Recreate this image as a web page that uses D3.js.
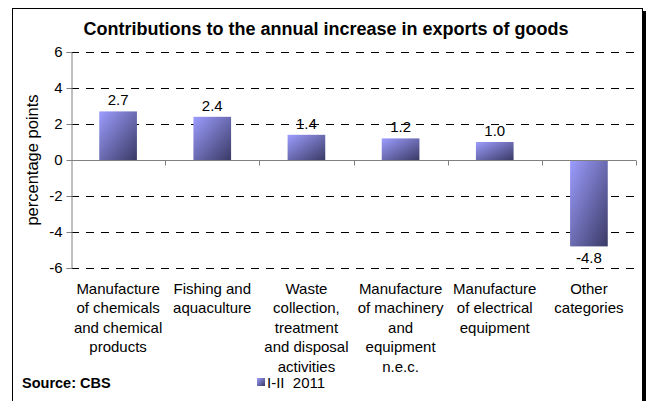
<!DOCTYPE html>
<html>
<head>
<meta charset="utf-8">
<script src="https://cdn.jsdelivr.net/npm/d3@7/dist/d3.min.js"></script>
<style>
  body { margin: 0; background: #fff; }
  svg { font-family: "Liberation Sans", Arial, sans-serif; }
</style>
</head>
<body>
<svg id="chart" width="646" height="401"></svg>
<script>
// data
const categories = [
  ["Manufacture", "of chemicals", "and chemical", "products"],
  ["Fishing and", "aquaculture"],
  ["Waste", "collection,", "treatment", "and disposal", "activities"],
  ["Manufacture", "of machinery", "and", "equipment", "n.e.c."],
  ["Manufacture", "of electrical", "equipment"],
  ["Other", "categories"]
];
const values = [2.7, 2.4, 1.4, 1.2, 1.0, -4.8];
const yTicks = [-6, -4, -2, 0, 2, 4, 6];
const seriesName = "I-II  2011";

const svg = d3.select("#chart");

// frame with shadow on the right
svg.append("rect").attr("x", 15).attr("y", 11).attr("width", 631).attr("height", 400).attr("fill", "#000");
svg.append("rect").attr("x", 12.5).attr("y", 8.5).attr("width", 630).attr("height", 400)
  .attr("fill", "#fff").attr("stroke", "#000").attr("stroke-width", 1);

const defs = svg.append("defs");
const grad = defs.append("linearGradient").attr("id", "barGrad")
  .attr("x1", 0).attr("y1", 0).attr("x2", 1).attr("y2", 1);
grad.append("stop").attr("offset", "0%").attr("stop-color", "#9d9dff");
grad.append("stop").attr("offset", "100%").attr("stop-color", "#3a3a66");

const pLeft = 71, pRight = 636, pTop = 52, pBottom = 268;

const x = d3.scaleBand().domain(d3.range(categories.length)).range([pLeft, pRight]).padding(0);
const y = d3.scaleLinear().domain([-6, 6]).range([pBottom, pTop]);

// title
svg.append("text").attr("x", 326).attr("y", 35).attr("text-anchor", "middle")
  .attr("font-size", 18).attr("font-weight", "bold").text("Contributions to the annual increase in exports of goods");

// dashed gridlines
svg.append("g").selectAll("line").data(yTicks.filter(d => d !== 0)).enter().append("line")
  .attr("x1", pLeft).attr("x2", pRight)
  .attr("y1", d => Math.round(y(d)) + 0.5).attr("y2", d => Math.round(y(d)) + 0.5)
  .attr("stroke", "#000").attr("stroke-dasharray", "8,7");

// y axis
const yAxis = svg.append("g").attr("transform", `translate(${pLeft + 0.5},0)`)
  .call(d3.axisLeft(y).tickValues(yTicks).tickSize(5).tickPadding(4).tickFormat(d3.format("d")));
yAxis.select(".domain").attr("stroke", "#808080");
yAxis.selectAll(".tick line").attr("stroke", "#808080");
yAxis.selectAll(".tick text").attr("font-size", 15).attr("fill", "#000")
  .attr("font-family", "Liberation Sans, Arial, sans-serif").text(d => d < 0 ? "-" + Math.abs(d) : d);

svg.append("text").attr("transform", "translate(38,160) rotate(-90)").attr("text-anchor", "middle")
  .attr("font-size", 16.5).text("percentage points");

// bars
const bw = x.bandwidth() * 0.4;
svg.append("g").selectAll("rect").data(values).enter().append("rect")
  .attr("x", (d, i) => x(i) + (x.bandwidth() - bw) / 2)
  .attr("width", bw)
  .attr("y", d => y(Math.max(0, d)))
  .attr("height", d => Math.abs(y(d) - y(0)))
  .attr("fill", "url(#barGrad)");

// zero axis with category ticks
const y0 = Math.round(y(0)) + 0.5;
svg.append("line").attr("x1", pLeft).attr("x2", pRight).attr("y1", y0).attr("y2", y0).attr("stroke", "#808080");
svg.append("g").selectAll("line").data(d3.range(1, categories.length + 1)).enter().append("line")
  .attr("x1", i => Math.round(pLeft + i * x.step()) + 0.5).attr("x2", i => Math.round(pLeft + i * x.step()) + 0.5)
  .attr("y1", y0).attr("y2", y0 + 5).attr("stroke", "#808080");

// value labels
svg.append("g").selectAll("text").data(values).enter().append("text")
  .attr("x", (d, i) => x(i) + x.bandwidth() / 2)
  .attr("y", d => d >= 0 ? y(d) - 6 : y(d) + 17)
  .attr("text-anchor", "middle").attr("font-size", 15)
  .text(d => d.toFixed(1));

// category labels
const cat = svg.append("g").selectAll("text").data(categories).enter().append("text")
  .attr("text-anchor", "middle").attr("font-size", 15);
cat.selectAll("tspan").data((d, i) => d.map(l => ({ l, i }))).enter().append("tspan")
  .attr("x", d => x(d.i) + x.bandwidth() / 2)
  .attr("y", (d, j) => 293.5 + j * 19.5)
  .text(d => d.l);

// source
svg.append("text").attr("x", 22).attr("y", 388).attr("font-size", 14.5).attr("font-weight", "bold").text("Source: CBS");

// legend
svg.append("rect").attr("x", 257).attr("y", 378).attr("width", 8).attr("height", 8).attr("fill", "url(#barGrad)");
svg.append("text").attr("x", 267).attr("y", 388).attr("font-size", 15).attr("xml:space", "preserve").text(seriesName);
</script>
</body>
</html>
